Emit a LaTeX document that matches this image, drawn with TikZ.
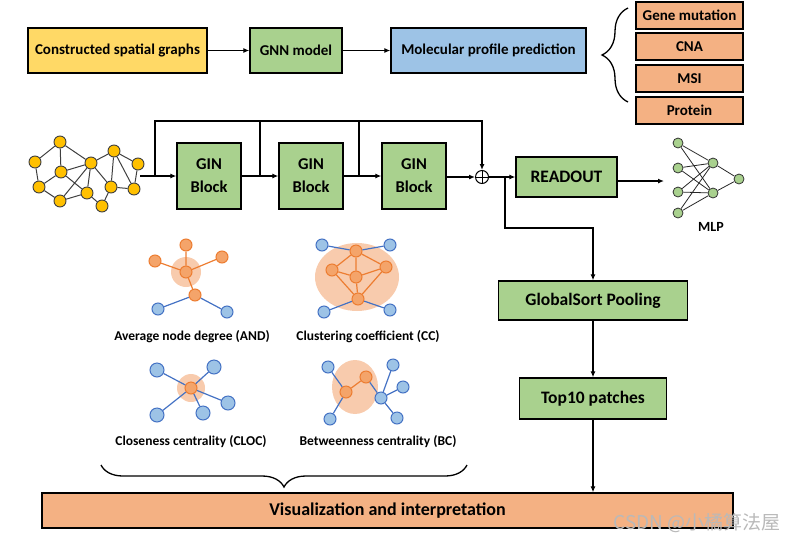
\documentclass[tikz,border=0pt]{standalone}
\usepackage{fontspec}
\setmainfont{Carlito}
\newfontfamily\cjkfont{Noto Sans CJK SC}
\usetikzlibrary{arrows.meta,decorations.pathreplacing}

\definecolor{boxyellow}{HTML}{FFD966}
\definecolor{boxgreen}{HTML}{A9D18E}
\definecolor{boxblue}{HTML}{9DC3E6}
\definecolor{boxorange}{HTML}{F4B183}
\definecolor{nodegold}{HTML}{FFC000}
\definecolor{nodegray}{HTML}{3F3F3F}
\definecolor{orangeline}{HTML}{ED7D31}
\definecolor{orangefill}{HTML}{F4A46A}
\definecolor{blueline}{HTML}{4472C4}
\definecolor{bluefill}{HTML}{9DC3E6}
\definecolor{halopeach}{HTML}{F8CBAD}

\begin{document}
\begin{tikzpicture}[x=1pt, y=-1pt,
  every node/.style={font=\bfseries\fontsize{15}{17}\selectfont},
  box/.style={draw, line width=1.3pt, align=center, inner sep=1pt},
  conn/.style={line width=1.3pt, -{Latex[length=6pt, width=5pt]}},
  plain/.style={line width=1.3pt},
  gnode/.style={circle, draw=nodegray, fill=nodegold, line width=0.9pt, minimum size=12, inner sep=0pt},
  gedge/.style={line width=1pt, nodegray},
  onode/.style={circle, draw=orangeline, fill=orangefill, line width=1pt, minimum size=12, inner sep=0pt},
  bnode/.style={circle, draw=blueline, fill=bluefill, line width=1pt, minimum size=12, inner sep=0pt},
  oedge/.style={line width=1.2pt, orangeline},
  bedge/.style={line width=1.2pt, blueline},
  halo/.style={fill=halopeach},
  mnode/.style={circle, draw=black!80, fill=boxgreen, line width=0.8pt, minimum size=10, inner sep=0pt},
  medge/.style={line width=0.8pt, black!85},
  flabel/.style={font=\bfseries\fontsize{13.5}{15}\selectfont},
  curly/.style={decorate, decoration={brace, amplitude=#1}, line width=1.3pt}]
  \useasboundingbox (0,0) rectangle (799,544);

  % top row
  \node[box, fill=boxyellow, minimum width=179, minimum height=45] (csg) at (117.5,50.5) {Constructed spatial graphs};
  \node[box, fill=boxgreen, minimum width=92, minimum height=45] (gnn) at (296,50.5) {GNN model};
  \node[box, fill=boxblue, minimum width=195, minimum height=45] (mpp) at (488.5,50.5) {Molecular profile prediction};
  \draw[conn] (csg) -- (gnn);
  \draw[conn] (gnn) -- (mpp);
  \node[box, fill=boxorange, minimum width=107, minimum height=27] (gene) at (689.5,15.5) {Gene mutation};
  \node[box, fill=boxorange, minimum width=107, minimum height=27] (cna) at (689.5,46.5) {CNA};
  \node[box, fill=boxorange, minimum width=107, minimum height=27] (msi) at (689.5,78.5) {MSI};
  \node[box, fill=boxorange, minimum width=107, minimum height=27] (prot) at (689.5,110.5) {Protein};
  \coordinate (bt) at (628,8);
  \coordinate (bb) at (628,102);
  \draw[curly=26pt] (bb) -- (bt);

  % input graph
  \node[gnode] (g1) at (60,142) {};
  \node[gnode] (g2) at (35,162) {};
  \node[gnode] (g3) at (61,172) {};
  \node[gnode] (g4) at (39,187) {};
  \node[gnode] (g5) at (60,201) {};
  \node[gnode] (g6) at (91,163) {};
  \node[gnode] (g7) at (87,193) {};
  \node[gnode] (g8) at (102,206) {};
  \node[gnode] (g9) at (114,151) {};
  \node[gnode] (g10) at (111,187) {};
  \node[gnode] (g11) at (138,164) {};
  \node[gnode] (g12) at (134,189) {};
  \draw[gedge] (g1)--(g2) (g1)--(g3) (g1)--(g6) (g2)--(g4) (g3)--(g4) (g4)--(g5)
    (g5)--(g7) (g3)--(g7) (g3)--(g6) (g6)--(g7) (g6)--(g5) (g6)--(g9) (g6)--(g10)
    (g9)--(g10) (g9)--(g12) (g9)--(g11) (g11)--(g12) (g10)--(g12) (g10)--(g8) (g7)--(g8);

  % GIN blocks with skip connections
  \coordinate (gout) at (140,176);
  \coordinate (j0) at (155,176);
  \coordinate (j1) at (260,176);
  \coordinate (j2) at (359,176);
  \coordinate (skip) at (0,121);
  \node[box, fill=boxgreen, minimum width=64, minimum height=66, font=\bfseries\fontsize{16.5}{23}\selectfont] (gin1) at (209,176) {GIN\\Block};
  \node[box, fill=boxgreen, minimum width=64, minimum height=66, font=\bfseries\fontsize{16.5}{23}\selectfont] (gin2) at (311,176) {GIN\\Block};
  \node[box, fill=boxgreen, minimum width=64, minimum height=66, font=\bfseries\fontsize{16.5}{23}\selectfont] (gin3) at (414,176) {GIN\\Block};
  \node[circle, draw, line width=1pt, minimum size=13, inner sep=0pt] (sum) at (482,177) {};
  \draw[line width=1pt] (sum.north) -- (sum.south) (sum.west) -- (sum.east);
  \draw[conn] (gout) -- (gin1);
  \draw[conn] (gin1) -- (gin2);
  \draw[conn] (gin2) -- (gin3);
  \draw[conn] (gin3.east |- sum) -- (sum);
  \draw[conn] (j0) -- (j0 |- skip) -| (sum);
  \draw[plain] (j1) -- (j1 |- skip);
  \draw[plain] (j2) -- (j2 |- skip);

  % readout and MLP
  \node[box, fill=boxgreen, minimum width=101, minimum height=40, font=\bfseries\fontsize{17.5}{19}\selectfont] (readout) at (566.5,177) {READOUT};
  \coordinate (j4) at (505,177);
  \coordinate (bend) at (0,228);
  \coordinate (mlpin) at (664,181);
  \draw[conn] (sum) -- (readout);
  \draw[conn] (readout.east |- mlpin) -- (mlpin);
  \node[mnode] (i1) at (678,143) {};
  \node[mnode] (i2) at (678,168) {};
  \node[mnode] (i3) at (678,192) {};
  \node[mnode] (i4) at (678,213) {};
  \node[mnode] (h1) at (713,163) {};
  \node[mnode] (h2) at (713,193) {};
  \node[mnode] (o1) at (739,179) {};
  \foreach \i in {i1,i2,i3,i4} {
    \draw[medge] (\i) -- (h1);
    \draw[medge] (\i) -- (h2);
  }
  \draw[medge] (h1) -- (o1) (h2) -- (o1);
  \node[font=\bfseries\fontsize{14}{16}\selectfont] (mlp) at (711,227) {MLP};

  % pooling branch
  \node[box, fill=boxgreen, minimum width=189, minimum height=39, font=\bfseries\fontsize{17.5}{19}\selectfont] (gsp) at (593,300.5) {GlobalSort Pooling};
  \node[box, fill=boxgreen, minimum width=147, minimum height=41, font=\bfseries\fontsize{17.5}{19}\selectfont] (top10) at (593,398.5) {Top10 patches};
  \node[box, fill=boxorange, minimum width=691, minimum height=35, font=\bfseries\fontsize{18}{20}\selectfont] (vis) at (387.5,510.5) {Visualization and interpretation};
  \draw[conn] (j4) -- (j4 |- bend) -| (gsp);
  \draw[conn] (gsp) -- (top10);
  \draw[conn] (top10) -- (top10 |- vis.north);

  % average node degree
  \fill[halo] (186,272) circle (15);
  \node[onode] (a0) at (186,272) {};
  \node[onode] (a1) at (186,245) {};
  \node[onode] (a2) at (155,261) {};
  \node[onode] (a3) at (222,257) {};
  \node[onode] (a4) at (195,295) {};
  \node[bnode] (a5) at (158,309) {};
  \node[bnode] (a6) at (227,312) {};
  \draw[oedge] (a0)--(a1) (a0)--(a2) (a0)--(a3) (a0)--(a4);
  \draw[bedge] (a4)--(a5) (a4)--(a6);
  \node[flabel] (andl) at (192,337) {Average node degree (AND)};

  % clustering coefficient
  \fill[halo] (357,277) ellipse (42 and 34);
  \node[onode] (c1) at (356,251) {};
  \node[onode] (c2) at (332,270) {};
  \node[onode] (c3) at (356,277) {};
  \node[onode] (c4) at (386,267) {};
  \node[onode] (c5) at (358,299) {};
  \node[bnode] (c6) at (322,245) {};
  \node[bnode] (c7) at (390,245) {};
  \node[bnode] (c8) at (324,312) {};
  \node[bnode] (c9) at (390,310) {};
  \draw[oedge] (c1)--(c2) (c1)--(c3) (c1)--(c4) (c2)--(c3) (c3)--(c4) (c2)--(c5) (c3)--(c5) (c4)--(c5);
  \draw[bedge] (c1)--(c6) (c1)--(c7) (c5)--(c8) (c5)--(c9);
  \node[flabel] (ccl) at (368,337) {Clustering coefficient (CC)};

  % closeness centrality
  \fill[halo] (191,388) circle (14);
  \node[onode] (l0) at (191,388) {};
  \node[bnode, minimum size=14] (l1) at (157,370) {};
  \node[bnode, minimum size=14] (l2) at (214,367) {};
  \node[bnode, minimum size=14] (l3) at (228,403) {};
  \node[bnode, minimum size=14] (l4) at (203,413) {};
  \node[bnode, minimum size=14] (l5) at (157,415) {};
  \draw[bedge] (l0)--(l1) (l0)--(l2) (l0)--(l3) (l0)--(l4) (l0)--(l5);
  \node[flabel] (clocl) at (191,442) {Closeness centrality (CLOC)};

  % betweenness centrality
  \fill[halo] (355,387) ellipse (23 and 27);
  \node[onode] (b1) at (346,392) {};
  \node[onode] (b2) at (366,377) {};
  \node[bnode] (b3) at (328,367) {};
  \node[bnode] (b4) at (330,419) {};
  \node[bnode] (b5) at (381,398) {};
  \node[bnode] (b6) at (393,365) {};
  \node[bnode] (b7) at (403,387) {};
  \node[bnode] (b8) at (397,418) {};
  \draw[oedge] (b1)--(b2);
  \draw[bedge] (b3)--(b1) (b4)--(b1) (b2)--(b5) (b5)--(b6) (b5)--(b7) (b5)--(b8);
  \node[flabel] (bcl) at (378,442) {Betweenness centrality (BC)};

  % brace to visualization
  \coordinate (bl) at (101,465);
  \coordinate (br) at (467,465);
  \draw[curly=22pt] (br) -- (bl);

  \node[font=\cjkfont\fontsize{19}{21}\selectfont, text=gray!55] (mark) at (697,523) {CSDN @小橘算法屋};
\end{tikzpicture}
\end{document}
